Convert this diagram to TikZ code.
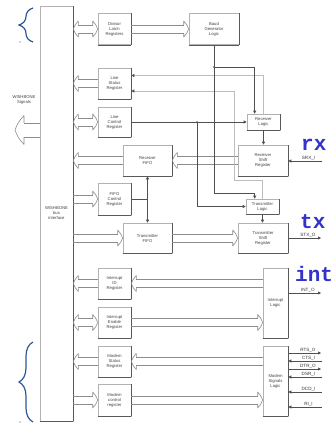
\documentclass[tikz,border=0pt]{standalone}
\usepackage{fontspec}
\setmainfont{Liberation Sans}
\newfontfamily\tagfont{Liberation Mono}
\usetikzlibrary{arrows.meta, calc, decorations.pathreplacing}
\definecolor{boxgray}{HTML}{8C8C8C}
\definecolor{wiregray}{HTML}{505050}
\definecolor{statgray}{HTML}{BDBDBD}
\definecolor{tagblue}{HTML}{3333CC}
\definecolor{braceblue}{HTML}{2B5797}

\tikzset{
  shadeedge/.style={draw=black!65, line width=0.6pt},
  regbox/.style={draw=black!30, line width=0.6pt, minimum width=33pt, minimum height=31pt,
    inner sep=0pt, align=center, font=\fontsize{4.2}{5}\selectfont, text=black!75,
    append after command={(\tikzlastnode.south west) edge[shadeedge] (\tikzlastnode.south east)
      (\tikzlastnode.south east) edge[shadeedge] (\tikzlastnode.north east)}},
  busline/.style={draw=boxgray, line width=0.6pt},
  wire/.style={draw=wiregray, line width=0.6pt},
  statwire/.style={draw=statgray, line width=0.8pt},
  tip/.style={-{Triangle[length=3pt, width=3pt, color=wiregray]}},
  pics/bushead/.style={code={
    \draw[boxgray, line width=0.6pt, line join=round]
      (-5,4) -- (-5,8) to[bend right=12] (0,0) to[bend right=12] (-5,-8) -- (-5,-4);}},
  sig/.style={font=\fontsize{4.6}{5}\selectfont, above, inner sep=0.5pt, text=black!80},
  tag/.style={font=\tagfont\bfseries\fontsize{21}{21}\selectfont, text=tagblue,
    anchor=base west, inner sep=0pt},
  curly/.style={draw=braceblue, line width=1.2pt, decorate, decoration={brace, amplitude=14pt}},
}

% bus arrows: two edge lines, then the open heads
\newcommand{\busshaft}[4][]{\foreach \s in {#4,-#4}
  {\draw[busline, #1, transform canvas={yshift=\s pt}] #2 -- #3;}}
\newcommand{\busR}[2]{\busshaft[shorten >=5pt]{#1}{#2}{4}\pic at #2 {bushead};}
\newcommand{\busL}[2]{\busshaft[shorten >=5pt]{#1}{#2}{4}\pic[rotate=180] at #2 {bushead};}
\newcommand{\busB}[2]{\busshaft[shorten <=5pt, shorten >=5pt]{#1}{#2}{4}
  \pic[rotate=180] at #1 {bushead}; \pic at #2 {bushead};}

\begin{document}
\begin{tikzpicture}[x=1pt, y=-1pt]
\useasboundingbox (0,0) rectangle (336,426);

% blocks
\node[regbox, minimum height=415pt] (wb) at (56.5,213.5) {WISHBONE\\bus\\interface};
\node[regbox] (dll) at (114.5,29) {Divisor\\Latch\\Registers};
\node[regbox, minimum width=50pt] (baud) at (214,29) {Baud\\Generator\\Logic};
\node[regbox] (lsr) at (114.5,83.5) {Line\\Status\\Register};
\node[regbox, minimum height=30pt] (lcr) at (114.5,122) {Line\\Control\\Register};
\node[regbox, minimum width=49pt] (rfifo) at (147.5,160.5) {Receiver\\FIFO};
\node[regbox, minimum height=32pt] (fcr) at (114.5,199) {FIFO\\Control\\Register};
\node[regbox, minimum width=49pt, minimum height=30pt] (tfifo) at (147.5,238) {Transmitter\\FIFO};
\node[regbox] (iir) at (114.5,283.5) {Interrupt\\ID\\Register};
\node[regbox] (ier) at (114.5,322.5) {Interrupt\\Enable\\Register};
\node[regbox] (msr) at (114.5,361.5) {Modem\\Status\\Register};
\node[regbox, minimum height=32pt] (mcr) at (114.5,400) {Modem\\control\\register};
\node[regbox, minimum height=16pt] (rxlog) at (263.5,122) {Receiver\\Logic};
\node[regbox, minimum width=50pt] (rsr) at (263,160.5) {Receiver\\Shift\\Register};
\node[regbox, minimum height=15pt] (txlog) at (262.5,206.5) {Transmitter\\Logic};
\node[regbox, minimum width=50pt, minimum height=30pt] (tsr) at (263,238) {Transmitter\\Shift\\Register};
\node[regbox, minimum width=25pt, minimum height=70pt] (intlog) at (275.5,303) {Interrupt\\Logic};
\node[regbox, minimum width=25pt, minimum height=70pt] (modlog) at (275.5,381) {Modem\\Signals\\Logic};
\node[font=\fontsize{4.2}{5}\selectfont, align=center, text=black!75] (wbsig) at (24,100) {WISHBONE\\Signals};

% buses
\coordinate (sigtip) at (15,130);
\busshaft[shorten >=9pt]{(wb.west |- sigtip)}{(sigtip)}{7.2}
\pic[rotate=180, scale=1.8] at (sigtip) {bushead};
\busB{(wb.east |- dll)}{(dll.west)}
\busR{(dll.east)}{(baud.west)}
\busL{(lsr.west)}{(wb.east |- lsr)}
\busB{(wb.east |- lcr)}{(lcr.west)}
\busL{(rfifo.west)}{(wb.east |- rfifo)}
\busR{(wb.east |- fcr)}{(fcr.west)}
\busR{(wb.east |- tfifo)}{(tfifo.west)}
\busL{(rsr.west)}{(rfifo.east)}
\busR{(tfifo.east)}{(tsr.west)}
\busL{(iir.west)}{(wb.east |- iir)}
\busL{(intlog.west |- iir)}{(iir.east)}
\busB{(wb.east |- ier)}{(ier.west)}
\busR{(ier.east)}{(intlog.west |- ier)}
\busL{(msr.west)}{(wb.east |- msr)}
\busL{(modlog.west |- msr)}{(msr.east)}
\busR{(wb.east |- mcr)}{(mcr.west)}
\busR{(mcr.east)}{(modlog.west |- mcr)}

% control wires
\coordinate (jbaud) at (baud.south |- 0,67);
\coordinate (jlcr) at (197,122);
\draw[statwire, tip] (rxlog.north) |- ($(lsr.east)+(0,-8)$);
\draw[statwire, tip] (txlog.north) |- (234,180) |- ($(lsr.east)+(0,7.5)$);
\draw[wire, tip] (jbaud) -| ($(rxlog.north west)+(8,0)$);
\draw[wire, tip] (baud.south) |- ($(txlog.north west)+(9,-5)$) -- ($(txlog.north west)+(9,0)$);
\draw[wire, tip] (lcr.east) -- (rxlog.west);
\draw[wire, tip] (jlcr) |- (txlog.west);
\fill[wiregray] (jbaud) circle (1pt) (jlcr) circle (1pt);
\draw[wire, tip] (rxlog.south) -- (rxlog.south |- rsr.north);
\draw[wire, tip] (txlog.south) -- (txlog.south |- tsr.north);
\draw[wire, {Triangle[length=3pt, width=3pt]}-{Triangle[length=3pt, width=3pt]}] (rfifo.south) -- (tfifo.north);
\draw[wire] (fcr.east) -- (fcr.east -| rfifo.south);

% serial and modem pins
\coordinate (srx) at (322,161);
\coordinate (stx) at (321,238);
\coordinate (into) at (321,293);
\draw[wire, tip] (srx) -- (rsr.east |- srx) node[sig, pos=0.4] {SRX\_I};
\draw[wire, tip] (tsr.east) -- (stx) node[sig, pos=0.6] {STX\_O};
\draw[wire, tip] (intlog.east |- into) -- (into) node[sig, pos=0.6] {INT\_O};
\foreach \yy/\lab/\out in {353/RTS\_O/1, 361/CTS\_I/0, 369/DTR\_O/1, 377/DSR\_I/0, 392/DCD\_I/0, 407/RI\_I/0} {
  \coordinate (pin) at (322,\yy);
  \ifnum\out=1
    \draw[wire, tip] (modlog.east |- pin) -- ($(pin)+(-1,0)$) node[sig, pos=0.6] {\lab};
  \else
    \draw[wire, tip] (pin) -- (modlog.east |- pin) node[sig, pos=0.4] {\lab};
  \fi
}

% blue notes
\node[tag] (rxtag) at (301,150) {rx};
\node[tag] (txtag) at (300,228.5) {tx};
\node[tag] (inttag) at (295,281) {int};
\draw[curly] (33,42) -- (33,8);
\draw[curly] (33,422) -- (33,342);
\fill[braceblue] (20,42) circle (0.6pt) (20,422) circle (0.6pt);
\end{tikzpicture}
\end{document}
